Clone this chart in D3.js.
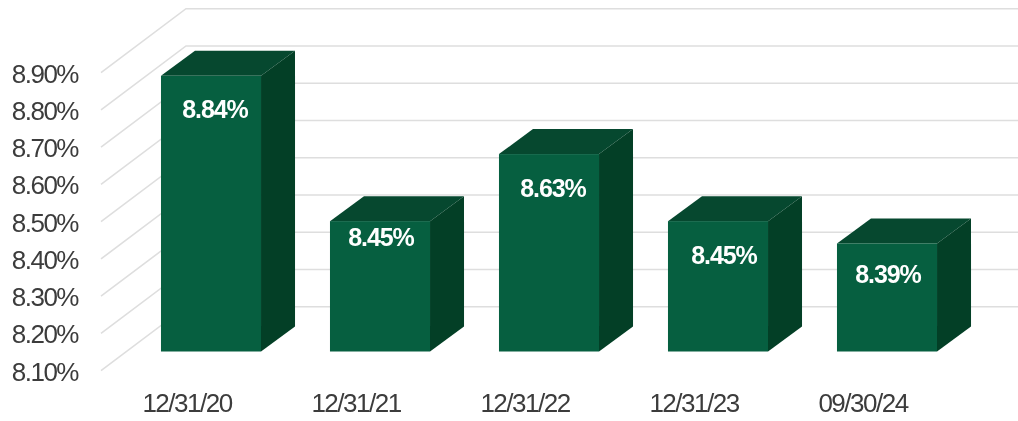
<!DOCTYPE html>
<html>
<head>
<meta charset="utf-8">
<script src="https://cdn.jsdelivr.net/npm/d3@7/dist/d3.min.js"></script>
<style>
  html, body { margin: 0; padding: 0; background: #fff; }
  svg { display: block; filter: blur(0.7px); }
  text { font-family: "Liberation Sans", Arial, sans-serif; }
</style>
</head>
<body>
<svg width="1018" height="421"></svg>
<script>
    const categories = ['12/31/20', '12/31/21', '12/31/22', '12/31/23', '09/30/24'];
    const values = [8.84, 8.45, 8.63, 8.45, 8.39];
    const tickValues = [8.1, 8.2, 8.3, 8.4, 8.5, 8.6, 8.7, 8.8, 8.9];
    // the labels sit a little unevenly in the source picture
    const labelShiftX = [4, 1, 4, 6, 1];
    const labelShiftY = [33, 16, 34, 34, 31];

    const svg = d3.select('svg');

    const y = d3.scaleLinear().domain([8.1, 8.9]).range([370.7, 72.7]);
    const x = d3.scaleBand()
        .domain(categories)
        .range([126.5, 971.5])
        .paddingInner(0.408)
        .paddingOuter(0.204);

    // 3d offsets
    const wallX = 85, wallY = -64;
    const depthX = 34, depthY = -25;
    const barLift = -19.2;
    const gridLeft = 101;

    const grid = svg.append('g')
        .attr('fill', 'none')
        .attr('stroke', '#dedede')
        .attr('stroke-width', 1.6);
    grid.selectAll('path')
        .data(tickValues)
        .enter().append('path')
        .attr('d', d => `M${gridLeft},${y(d)}L${gridLeft + wallX},${y(d) + wallY}L1018,${y(d) + wallY}`);

    const yAxis = d3.axisLeft(y)
        .tickValues(tickValues)
        .tickSize(0)
        .tickPadding(0)
        .tickFormat(d => d3.format('.2f')(d) + '%');
    svg.append('g')
        .attr('transform', 'translate(78,1)')
        .call(yAxis)
        .call(g => g.select('.domain').remove())
        .selectAll('text')
        .attr('fill', '#3c3c3c')
        .attr('font-size', 26)
        .attr('letter-spacing', -1.5)
        .style('font-family', '"Liberation Sans", Arial, sans-serif');

    const xAxis = d3.axisBottom(x).tickSize(0).tickPadding(0);
    svg.append('g')
        .attr('transform', 'translate(-24,393.5)')
        .call(xAxis)
        .call(g => g.select('.domain').remove())
        .selectAll('text')
        .attr('fill', '#3c3c3c')
        .attr('font-size', 26)
        .attr('letter-spacing', -1.5)
        .attr('dy', '0.71em')
        .style('font-family', '"Liberation Sans", Arial, sans-serif');

    const bars = svg.selectAll('g.bar')
        .data(categories.map((c, i) => ({ c, v: values[i], i })))
        .enter().append('g')
        .attr('class', 'bar');

    const barBase = y(8.1) + barLift;
    const barTop = d => y(d.v) + barLift;
    const barLeft = d => x(d.c);
    const barRight = d => x(d.c) + x.bandwidth();

    bars.append('path')
        .attr('fill', '#06482f')
        .attr('d', d => `M${barLeft(d)},${barTop(d)}L${barLeft(d) + depthX},${barTop(d) + depthY}L${barRight(d) + depthX},${barTop(d) + depthY}L${barRight(d)},${barTop(d)}Z`);

    bars.append('path')
        .attr('fill', '#033f26')
        .attr('d', d => `M${barRight(d)},${barTop(d)}L${barRight(d) + depthX},${barTop(d) + depthY}L${barRight(d) + depthX},${barBase + depthY}L${barRight(d)},${barBase}Z`);

    bars.append('rect')
        .attr('fill', '#065f40')
        .attr('x', barLeft)
        .attr('y', barTop)
        .attr('width', x.bandwidth())
        .attr('height', d => barBase - barTop(d));

    bars.append('text')
        .attr('x', d => x(d.c) + x.bandwidth() / 2 + labelShiftX[d.i])
        .attr('y', d => barTop(d) + labelShiftY[d.i])
        .attr('dy', '0.35em')
        .attr('text-anchor', 'middle')
        .attr('fill', '#fff')
        .attr('font-size', 25)
        .attr('font-weight', 'bold')
        .attr('letter-spacing', -1.1)
        .text(d => d3.format('.2f')(d.v) + '%');
</script>
</body>
</html>
